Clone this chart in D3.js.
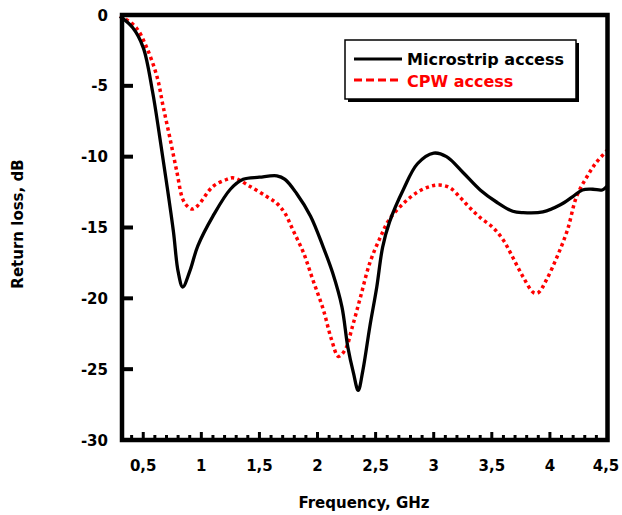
<!DOCTYPE html>
<html>
<head>
<meta charset="utf-8">
<script src="https://cdn.jsdelivr.net/npm/d3@7"></script>
<style>
  html, body { margin: 0; padding: 0; background: #fff; }
  svg { display: block; font-family: "DejaVu Sans", "Liberation Sans", Arial, sans-serif; font-weight: bold; }
</style>
</head>
<body>
<div id="chart"></div>
<script>
// frequency (GHz) and return loss (dB)
const microFreq = [0.30, 0.41, 0.50, 0.58, 0.64, 0.70, 0.76, 0.80, 0.84, 0.90, 0.97, 1.10, 1.25, 1.36, 1.50, 1.65, 1.72, 1.82, 1.94, 2.05, 2.13, 2.21, 2.26, 2.31, 2.35, 2.39, 2.45, 2.51, 2.56, 2.62, 2.74, 2.86, 3.00, 3.11, 3.25, 3.40, 3.54, 3.68, 3.77, 3.94, 4.09, 4.20, 4.28, 4.37, 4.45, 4.50];
const microLoss = [-0.1, -0.9, -2.3, -5.4, -8.5, -11.8, -15.3, -18.1, -19.2, -18.1, -16.3, -14.2, -12.3, -11.6, -11.45, -11.35, -11.6, -12.6, -14.2, -16.4, -18.2, -20.6, -23.4, -25.3, -26.5, -25.1, -22.0, -19.2, -16.4, -14.6, -12.3, -10.5, -9.75, -10.0, -11.1, -12.35, -13.2, -13.85, -13.95, -13.9, -13.4, -12.8, -12.35, -12.3, -12.35, -12.0];

const cpwFreq = [0.30, 0.33, 0.44, 0.53, 0.62, 0.67, 0.73, 0.79, 0.84, 0.88, 0.92, 0.97, 1.10, 1.22, 1.28, 1.42, 1.56, 1.65, 1.72, 1.79, 1.88, 1.96, 2.05, 2.12, 2.18, 2.24, 2.30, 2.37, 2.45, 2.54, 2.62, 2.74, 2.86, 2.97, 3.05, 3.14, 3.23, 3.31, 3.40, 3.51, 3.60, 3.68, 3.77, 3.86, 3.90, 3.97, 4.06, 4.15, 4.23, 4.32, 4.40, 4.50];
const cpwLoss = [-0.07, -0.2, -0.9, -2.3, -4.4, -6.4, -8.7, -11.1, -13.0, -13.5, -13.7, -13.45, -12.1, -11.6, -11.5, -12.1, -12.8, -13.3, -14.0, -15.2, -16.8, -18.7, -20.8, -22.9, -24.1, -23.6, -22.0, -19.9, -17.5, -15.7, -14.4, -13.3, -12.5, -12.1, -12.0, -12.2, -12.9, -13.6, -14.3, -15.0, -15.9, -17.1, -18.5, -19.6, -19.6, -18.7, -17.1, -15.2, -12.8, -11.4, -10.4, -9.5];

const xTickValues = [0.5, 1, 1.5, 2, 2.5, 3, 3.5, 4, 4.5];
const xTickLabels = ["0,5", "1", "1,5", "2", "2,5", "3", "3,5", "4", "4,5"];
const yTickValues = [0, -5, -10, -15, -20, -25, -30];

const seriesNames = ["Microstrip access", "CPW access"];

const svgWidth = 622, svgHeight = 515;
const plotLeft = 122, plotRight = 607.5, plotTop = 15, plotBottom = 440;

const svg = d3.select("#chart").append("svg")
  .attr("width", svgWidth)
  .attr("height", svgHeight);

const x = d3.scaleLinear().domain([0.3, 4.5]).range([120, 608]);
const y = d3.scaleLinear().domain([-30, 0]).range([plotBottom, plotTop]);

// minor ticks every 0.1 GHz, major ticks every 0.5
const minorTicks = d3.range(4, 45).map(d => d / 10);
svg.append("g")
  .selectAll("line")
  .data(minorTicks)
  .join("line")
  .attr("x1", d => x(d)).attr("x2", d => x(d))
  .attr("y1", plotBottom)
  .attr("y2", d => Math.abs(d * 2 - Math.round(d * 2)) < 1e-6 ? plotBottom - 8 : plotBottom - 5)
  .attr("stroke", "#000")
  .attr("stroke-width", 3);

// y ticks (inward)
svg.append("g")
  .selectAll("line")
  .data(yTickValues.filter(d => d !== 0 && d !== -30))
  .join("line")
  .attr("x1", plotLeft).attr("x2", plotLeft + 11)
  .attr("y1", d => y(d)).attr("y2", d => y(d))
  .attr("stroke", "#000")
  .attr("stroke-width", 4);

// curves
const line = d3.line()
  .x(d => x(d[0]))
  .y(d => y(d[1]))
  .curve(d3.curveCatmullRom.alpha(0.5));

svg.append("path")
  .datum(cpwFreq.map((f, i) => [f, cpwLoss[i]]))
  .attr("d", line)
  .attr("fill", "none")
  .attr("stroke", "#ff0000")
  .attr("stroke-width", 3.5)
  .attr("stroke-dasharray", "3.3,3.3");

svg.append("path")
  .datum(microFreq.map((f, i) => [f, microLoss[i]]))
  .attr("d", line)
  .attr("fill", "none")
  .attr("stroke", "#000")
  .attr("stroke-width", 3.3)
  .attr("stroke-linejoin", "round");

// frame
svg.append("rect")
  .attr("x", plotLeft).attr("y", plotTop)
  .attr("width", plotRight - plotLeft).attr("height", plotBottom - plotTop)
  .attr("fill", "none")
  .attr("stroke", "#000")
  .attr("stroke-width", 4.5);

// tick labels
svg.append("g")
  .attr("font-size", 15)
  .attr("text-anchor", "end")
  .selectAll("text")
  .data(yTickValues)
  .join("text")
  .attr("x", 108)
  .attr("y", d => y(d) + 5.5)
  .text(d => d);

svg.append("g")
  .attr("font-size", 15)
  .attr("text-anchor", "middle")
  .selectAll("text")
  .data(xTickValues)
  .join("text")
  .attr("x", (d, i) => x(d) + (i === xTickValues.length - 1 ? -2 : 0))
  .attr("y", 471)
  .text((d, i) => xTickLabels[i]);

// axis titles
svg.append("text")
  .attr("x", 364).attr("y", 508)
  .attr("font-size", 15)
  .attr("text-anchor", "middle")
  .text("Frequency, GHz");

svg.append("text")
  .attr("transform", "translate(23, 224) rotate(-90)")
  .attr("font-size", 15)
  .attr("text-anchor", "middle")
  .text("Return loss, dB");

// legend
const legend = svg.append("g");
legend.append("rect")
  .attr("x", 348).attr("y", 43).attr("width", 231).attr("height", 59)
  .attr("fill", "#000");
legend.append("rect")
  .attr("x", 345).attr("y", 40).attr("width", 231).attr("height", 59)
  .attr("fill", "#fff").attr("stroke", "#000").attr("stroke-width", 1.5);

legend.append("line")
  .attr("x1", 354).attr("x2", 402).attr("y1", 59).attr("y2", 59)
  .attr("stroke", "#000").attr("stroke-width", 3);
legend.append("line")
  .attr("x1", 354).attr("x2", 402).attr("y1", 80).attr("y2", 80)
  .attr("stroke", "#ff0000").attr("stroke-width", 3)
  .attr("stroke-dasharray", "8,4");

legend.append("text")
  .attr("x", 407).attr("y", 65)
  .attr("font-size", 16)
  .text(seriesNames[0]);
legend.append("text")
  .attr("x", 407).attr("y", 87)
  .attr("font-size", 16)
  .attr("fill", "#ff0000")
  .text(seriesNames[1]);
</script>
</body>
</html>
